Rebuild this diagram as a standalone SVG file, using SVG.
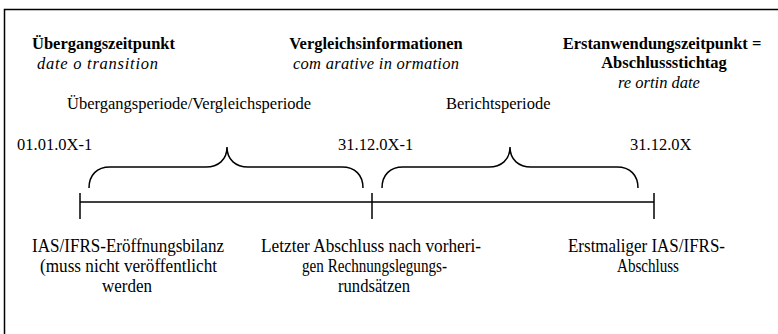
<svg xmlns="http://www.w3.org/2000/svg" width="778" height="334" viewBox="0 0 778 334" font-family="'Liberation Serif', 'DejaVu Serif', serif">
  <style>
    text { font-family: 'Liberation Serif', 'DejaVu Serif', serif; fill: #000; }
    .b { font-weight: bold; font-size: 16.5px; }
    .i { font-style: italic; font-size: 16.5px; }
    .r { font-size: 16.5px; }
    .n { font-size: 18px; }
    .c { text-anchor: middle; }
    .line { stroke: #000; stroke-width: 1.5; fill: none; }
  </style>
  <rect x="4.5" y="9.5" width="790" height="340" fill="#fff" stroke="#000" stroke-width="1.5"/>

  <g id="transition-date">
    <text class="b" x="32" y="49">Übergangszeitpunkt</text>
    <text class="i" x="37" y="69" textLength="121" lengthAdjust="spacing">date o  transition</text>
  </g>
  <g id="comparative-info">
    <text class="b c" x="376" y="49">Vergleichsinformationen</text>
    <text class="i c" x="376" y="69" textLength="166" lengthAdjust="spacing">com  arative in ormation</text>
  </g>
  <g id="reporting-date">
    <text class="b c" x="662" y="49">Erstanwendungszeitpunkt =</text>
    <text class="b c" x="664" y="68">Abschlussstichtag</text>
    <text class="i c" x="659" y="88">re  ortin  date</text>
  </g>

  <g id="period-labels">
    <text class="r" x="67" y="109">Übergangsperiode/Vergleichsperiode</text>
    <text class="r" x="446" y="109">Berichtsperiode</text>
  </g>
  <g id="dates">
    <text class="r" x="17" y="150">01.01.0X-1</text>
    <text class="r" x="338" y="150">31.12.0X-1</text>
    <text class="r" x="630" y="150">31.12.0X</text>
  </g>

  <g id="connectors">
    <path class="line" d="M89,188 C89,175 97,167 110,167 L206,167 C218,167 227,160 227,147 C227,160 236,167 248,167 L342,167 C355,167 363,175 363,188"/>
    <path class="line" d="M382,188 C382,175 390,167 403,167 L489,167 C501,167 510,160 510,147 C510,160 519,167 531,167 L617,167 C630,167 638,175 638,188"/>
    <line class="line" x1="80" y1="202" x2="654" y2="202"/>
    <line class="line" x1="80" y1="193" x2="80" y2="219"/>
    <line class="line" x1="372" y1="193" x2="372" y2="219"/>
    <line class="line" x1="654" y1="193" x2="654" y2="219"/>
  </g>

  <g id="opening-balance">
    <text class="n c" x="128" y="252" textLength="192" lengthAdjust="spacingAndGlyphs">IAS/IFRS-Eröffnungsbilanz</text>
    <text class="n c" x="128.5" y="272" textLength="177" lengthAdjust="spacingAndGlyphs">(muss nicht veröffentlicht</text>
    <text class="n c" x="127" y="292" textLength="50" lengthAdjust="spacingAndGlyphs">werden</text>
  </g>
  <g id="last-statement">
    <text class="n c" x="371" y="252" textLength="220" lengthAdjust="spacingAndGlyphs">Letzter Abschluss nach vorheri-</text>
    <text class="n c" x="374.5" y="272" textLength="145" lengthAdjust="spacingAndGlyphs">gen Rechnungslegungs-</text>
    <text class="n c" x="374" y="292" textLength="72" lengthAdjust="spacingAndGlyphs">rundsätzen</text>
  </g>
  <g id="first-ifrs">
    <text class="n c" x="646.5" y="252" textLength="157" lengthAdjust="spacingAndGlyphs">Erstmaliger IAS/IFRS-</text>
    <text class="n c" x="648" y="272" textLength="62" lengthAdjust="spacingAndGlyphs">Abschluss</text>
  </g>
</svg>
